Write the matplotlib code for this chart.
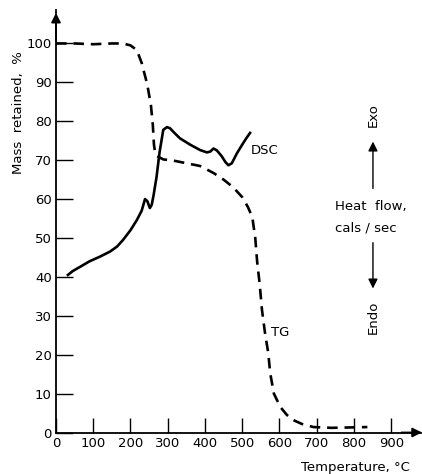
import numpy as np
import matplotlib.pyplot as plt

# TG curve (mass retained, %)
tg_temp = [0, 50, 100, 150, 180, 200, 217, 230, 245, 255, 260, 263, 266, 272, 288, 320, 351, 387,
           423, 450, 476, 500, 515, 527, 535, 540, 547, 553, 562, 570, 575, 585, 602, 620, 637,
           660, 691, 740, 790, 836]
tg_mass = [100, 100, 99.8, 100, 100, 99.5, 98.3, 95, 89.5, 84, 79, 74, 72, 71, 70.2, 69.8, 69.2,
           68.5, 66.7, 65, 63, 60.5, 58, 55.4, 50, 44, 38, 31.5, 25, 20.4, 15.3, 10, 6.6, 4.5, 3.2,
           2.2, 1.4, 1.2, 1.3, 1.4]

# DSC curve (heat flow, drawn on the same scale)
dsc_temp = [32, 45, 65, 90, 118, 145, 164, 180, 200, 217, 230, 239, 245, 252, 257, 262, 270, 278,
            288, 298, 306, 318, 333, 360, 387, 405, 414, 423, 432, 445, 455, 463, 472, 486, 500,
            510, 521]
dsc_val = [40.5, 41.5, 42.6, 44, 45.2, 46.5, 47.8, 49.5, 52, 54.6, 57, 60, 59.5, 57.7, 58.5, 61,
           65.7, 72, 77.8, 78.5, 78.2, 77, 75.6, 74, 72.6, 72, 72.2, 73, 72.5, 71, 69.5, 68.7,
           69.2, 71.8, 74, 75.5, 77]

xticks = [0, 100, 200, 300, 400, 500, 600, 700, 800, 900]
yticks = [0, 10, 20, 30, 40, 50, 60, 70, 80, 90, 100]

plt.rcParams['font.family'] = 'DejaVu Sans'
fig = plt.figure(figsize=(4.22, 4.74), dpi=100)
ax = fig.add_axes([56 / 422, 41.5 / 474, 365 / 422, 422.5 / 474])
ax.set_xlim(0, 980)
ax.set_ylim(0, 108.6)

ax.plot(tg_temp, tg_mass, color='black', lw=1.9, ls=(0, (4, 2.6)), clip_on=False)
ax.plot(dsc_temp, dsc_val, color='black', lw=1.9, clip_on=False)

for s in ['top', 'right']:
    ax.spines[s].set_visible(False)
for s in ['left', 'bottom']:
    ax.spines[s].set_linewidth(1.3)

ax.set_xticks(xticks)
ax.set_yticks(yticks)
ax.tick_params(axis='y', direction='in', length=12, width=1.0, labelsize=9.5, pad=3)
ax.tick_params(axis='x', direction='in', length=11, width=1.0, labelsize=9.5, pad=3)

# axis arrowheads
ax.annotate('', xy=(0, 108.6), xytext=(0, 100), annotation_clip=False,
            arrowprops=dict(arrowstyle='-|>', color='black', lw=1.3, mutation_scale=14))
ax.annotate('', xy=(990, 0), xytext=(920, 0), annotation_clip=False,
            arrowprops=dict(arrowstyle='-|>', color='black', lw=1.3, mutation_scale=14))

ax.text(522, 72.5, 'DSC', fontsize=9.5, va='center', ha='left')
ax.text(578, 25.8, 'TG', fontsize=9.5, va='center', ha='left')

# heat flow direction
ax.text(851, 81.5, 'Exo', rotation=90, fontsize=9.5, ha='center', va='center')
ax.annotate('', xy=(851, 75.5), xytext=(851, 62), annotation_clip=False,
            arrowprops=dict(arrowstyle='-|>', color='black', lw=1.0, mutation_scale=14))
ax.text(750, 58, 'Heat  flow,', fontsize=9.5, ha='left', va='center')
ax.text(750, 52.6, 'cals / sec', fontsize=9.5, ha='left', va='center')
ax.annotate('', xy=(851, 36.3), xytext=(851, 49.5), annotation_clip=False,
            arrowprops=dict(arrowstyle='-|>', color='black', lw=1.0, mutation_scale=14))
ax.text(851, 29.5, 'Endo', rotation=90, fontsize=9.5, ha='center', va='center')

ax.text(950, -9, 'Temperature, °C', fontsize=9.5, ha='right', va='center')
fig.text(19 / 422, 1 - 113 / 474, 'Mass  retained,  %', rotation=90, fontsize=9.5,
         ha='center', va='center')

fig.savefig('out.png', dpi=100)
